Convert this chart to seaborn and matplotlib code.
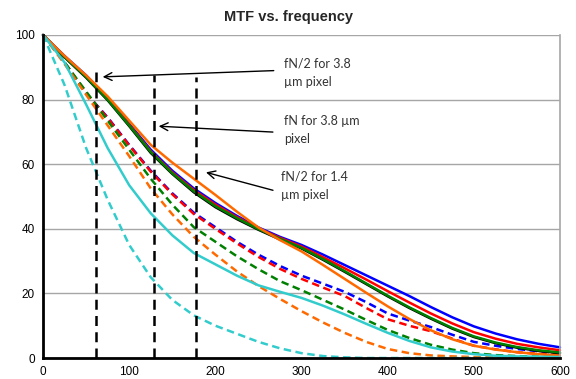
import numpy as np
import pandas as pd
import matplotlib
matplotlib.use("Agg")
import matplotlib.pyplot as plt
import seaborn as sns
from matplotlib.ticker import MultipleLocator

# spatial frequency (cycles/mm), every 25
freq = [0, 25, 50, 75, 100, 125, 150, 175, 200, 225, 250, 275, 300,
        325, 350, 375, 400, 425, 450, 475, 500, 525, 550, 575, 600]

# solid MTF curves
blue_solid = [100, 93.5, 87.5, 80.5, 72.5, 64.5, 58, 52.5, 48, 44, 40.4, 37.5, 35,
              32, 28.8, 25.6, 22.4, 19.2, 15.8, 12.6, 9.8, 7.6, 5.8, 4.4, 3.3]
red_solid = [100, 93.3, 87.2, 80.2, 72.2, 64, 57.5, 52, 47.5, 43.6, 40.1, 37.2, 34.5,
             31.2, 27.8, 24.3, 20.7, 17.2, 13.8, 10.7, 8, 6, 4.4, 3.3, 2.4]
green_solid = [100, 93.2, 87, 80, 72, 63.8, 57.2, 51.6, 47, 43.3, 39.9, 36.9, 34.1,
               30.6, 26.9, 23.1, 19.3, 15.7, 12.4, 9.3, 6.7, 4.8, 3.4, 2.4, 1.7]
black_solid = [100, 93.1, 86.8, 79.8, 71.8, 63.5, 57, 51.3, 46.7, 43, 39.7, 36.7, 33.9,
               30.4, 26.7, 22.9, 19.1, 15.5, 12.2, 9.1, 6.5, 4.6, 3.2, 2.2, 1.5]
orange_solid = [100, 93.5, 87.5, 81, 73.5, 66, 60.5, 55.5, 50.5, 45.3, 40.4, 36.5, 33,
                28.8, 24.5, 20.2, 16, 12.1, 8.6, 5.8, 3.8, 2.6, 1.8, 1.2, 0.7]
cyan_solid = [100, 91.5, 78.5, 65, 53.5, 44.8, 38, 32.5, 29, 25.5, 22.5, 20.5, 18.6,
              16.2, 13.5, 10.6, 7.8, 5.3, 3.3, 2.0, 1.2, 0.7, 0.5, 0.4, 0.3]

# dashed MTF curves
blue_dash = [100, 91.5, 82, 74.5, 66, 58, 51, 45, 40.5, 36, 32, 28.5, 25.5,
             23, 20.5, 17.3, 13.8, 11.6, 9.6, 7.2, 5, 3.8, 2.8, 2.1, 1.5]
red_dash = [100, 91.5, 82, 74.3, 65.8, 57.7, 50.7, 44.6, 40, 35.5, 31.3, 27.6, 24.5,
            21.8, 19.2, 15.5, 12, 10, 8.3, 6, 3.8, 2.7, 1.8, 1.3, 1.0]
green_dash = [100, 91.5, 82.5, 73.5, 64.5, 55.5, 47.5, 40.5, 36, 31.5, 27.5, 23.8, 21,
              18, 15, 11.8, 8.7, 6.2, 4.1, 2.6, 1.5, 0.9, 0.6, 0.4, 0.3]
orange_dash = [100, 91, 81.5, 72, 62.5, 52.5, 44.5, 37.5, 32, 26.8, 22.3, 18.3, 14.5,
               11, 7.8, 5, 2.8, 1.5, 0.8, 0.5, 0.3, 0.2, 0.1, 0.1, 0]
cyan_dash = [100, 84.5, 65, 49, 35, 25, 18, 13.2, 10, 7.5, 5, 3, 1.5,
             0.6, 0.2, 0, 0, 0, 0, 0, 0, 0, 0, 0, 0]

# Nyquist marker lines
marker_x = [62, 129, 178]
marker_top = [88.5, 87.5, 87]

labels = ["fN/2 for 3.8\n\u00b5m pixel", "fN for 3.8 \u00b5m\npixel", "fN/2 for 1.4\n\u00b5m pixel"]
label_xy = [(280, 88.3), (280, 70.6), (276, 53.3)]
arrow_tip = [(66, 87), (131, 71.8), (186, 57.7)]
arrow_tail = [(271, 89), (270, 69.9), (270, 51.7)]

sns.set_style("white")
plt.rcParams['font.family'] = ['Liberation Sans', 'DejaVu Sans']

fig = plt.figure(figsize=(5.76, 3.79), dpi=100)
ax = fig.add_axes([0.0747, 0.0554, 0.8975, 0.8523])

solids = [("#0000ff", blue_solid), ("#ff0000", red_solid), ("#000000", black_solid),
          ("#008000", green_solid), ("#ff6a00", orange_solid), ("#33cccc", cyan_solid)]
dashes = [("#0000ff", blue_dash), ("#ff0000", red_dash), ("#008000", green_dash),
          ("#ff6a00", orange_dash), ("#33cccc", cyan_dash)]

for col, vals in dashes:
    df = pd.DataFrame({"f": freq, "mtf": vals})
    sns.lineplot(data=df, x="f", y="mtf", ax=ax, color=col, lw=1.8,
                 linestyle=(0, (3, 1.8)), clip_on=False)
for col, vals in solids:
    df = pd.DataFrame({"f": freq, "mtf": vals})
    sns.lineplot(data=df, x="f", y="mtf", ax=ax, color=col, lw=1.8, clip_on=False)

for xv, top in zip(marker_x, marker_top):
    ax.plot([xv, xv], [0, top], color="black", lw=1.8, linestyle=(0, (4, 2.5)), zorder=5)

for txt, xy in zip(labels, label_xy):
    ax.text(xy[0], xy[1], txt, fontsize=9, family=['Lato', 'DejaVu Sans'],
            color="#333333", va="center", ha="left", linespacing=1.6)
for tip, tail in zip(arrow_tip, arrow_tail):
    ax.annotate("", xy=tip, xytext=tail,
                arrowprops=dict(arrowstyle="->", color="black", lw=1.0, mutation_scale=14))

ax.set_xlim(0, 600)
ax.set_ylim(0, 100)
ax.set_xlabel("")
ax.set_ylabel("")
ax.xaxis.set_major_locator(MultipleLocator(100))
ax.xaxis.set_minor_locator(MultipleLocator(20))
ax.yaxis.set_major_locator(MultipleLocator(20))
ax.yaxis.set_minor_locator(MultipleLocator(5))
ax.tick_params(axis="both", which="both", direction="in", labelsize=8.5, colors="black", pad=6)
ax.tick_params(axis="both", which="major", length=4, width=1.5)
ax.tick_params(axis="both", which="minor", length=3, width=1.5)
ax.tick_params(axis="y", which="both", right=False)
ax.tick_params(axis="x", which="both", top=False)
ax.grid(axis="y", color="#a6a6a6", lw=1.0)
ax.set_axisbelow(True)

for side in ["left", "bottom"]:
    ax.spines[side].set_color("black")
    ax.spines[side].set_linewidth(2)
ax.spines["top"].set_visible(False)
ax.spines["right"].set_color("#a6a6a6")
ax.spines["right"].set_linewidth(1.2)

fig.text(0.5, 0.955, "MTF vs. frequency", ha="center", va="center", fontsize=10.5, fontweight="bold")

fig.savefig("out.png", dpi=100)
